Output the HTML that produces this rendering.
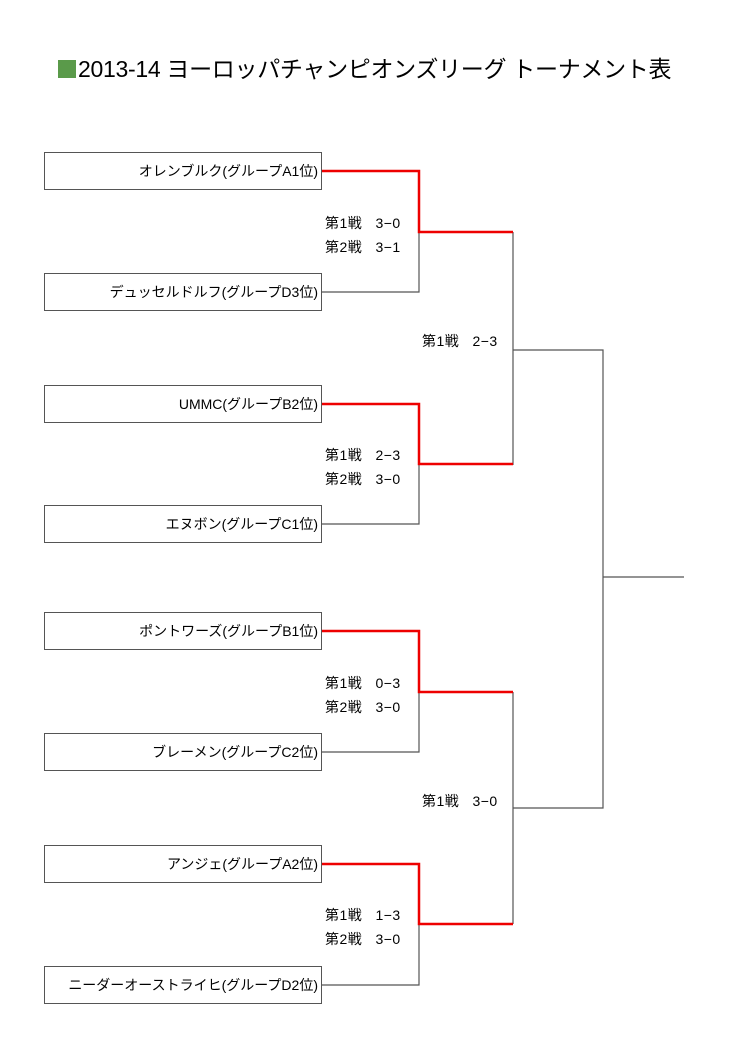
<!DOCTYPE html>
<html><head><meta charset="utf-8"><style>
body{margin:0;width:750px;height:1053px;background:#fff;position:relative;overflow:hidden;font-family:"Liberation Sans","Noto Sans CJK JP",sans-serif;}
.t{position:absolute;left:58px;top:50px;font-size:23px;color:#000;white-space:nowrap;letter-spacing:-0.3px;}
.sq{display:inline-block;width:18px;height:18px;background:#5a9a4a;vertical-align:-1px;margin-right:2px;}
.box{position:absolute;left:44px;width:276px;height:36px;border:1px solid #555;font-size:14px;text-align:right;line-height:36px;box-sizing:content-box;}
.box span{margin-right:3px;}
.s{position:absolute;font-size:14px;white-space:nowrap;letter-spacing:0.5px;}
</style></head><body>
<div class="t"><span class="sq"></span>2013-14 ヨーロッパチャンピオンズリーグ トーナメント表</div>
<div class="box" style="top:152px"><span>オレンブルク(グループA1位)</span></div>
<div class="box" style="top:273px"><span>デュッセルドルフ(グループD3位)</span></div>
<div class="box" style="top:385px"><span>UMMC(グループB2位)</span></div>
<div class="box" style="top:505px"><span>エヌボン(グループC1位)</span></div>
<div class="box" style="top:612px"><span>ポントワーズ(グループB1位)</span></div>
<div class="box" style="top:733px"><span>ブレーメン(グループC2位)</span></div>
<div class="box" style="top:845px"><span>アンジェ(グループA2位)</span></div>
<div class="box" style="top:966px"><span>ニーダーオーストライヒ(グループD2位)</span></div>
<svg width="750" height="1053" style="position:absolute;left:0;top:0" fill="none">
<g stroke="#555" stroke-width="1.2">
<path d="M322 292H419V232"/><path d="M322 524H419V464"/><path d="M322 752H419V692"/><path d="M322 985H419V924"/>
<path d="M513 232V465"/><path d="M513 692V924"/>
<path d="M513 350H603V808H513"/><path d="M603 577H684"/>
</g>
<g stroke="#e00" stroke-width="2.5">
<path d="M322 171H419V232H513"/><path d="M322 404H419V464H513"/><path d="M322 631H419V692H513"/><path d="M322 864H419V924H513"/>
</g>
</svg>
<div class="s" style="left:325px;top:213px">第1戦&nbsp;&nbsp; 3−0</div>
<div class="s" style="left:325px;top:237px">第2戦&nbsp;&nbsp; 3−1</div>
<div class="s" style="left:422px;top:331px">第1戦&nbsp;&nbsp; 2−3</div>
<div class="s" style="left:325px;top:445px">第1戦&nbsp;&nbsp; 2−3</div>
<div class="s" style="left:325px;top:469px">第2戦&nbsp;&nbsp; 3−0</div>
<div class="s" style="left:325px;top:673px">第1戦&nbsp;&nbsp; 0−3</div>
<div class="s" style="left:325px;top:697px">第2戦&nbsp;&nbsp; 3−0</div>
<div class="s" style="left:422px;top:791px">第1戦&nbsp;&nbsp; 3−0</div>
<div class="s" style="left:325px;top:905px">第1戦&nbsp;&nbsp; 1−3</div>
<div class="s" style="left:325px;top:929px">第2戦&nbsp;&nbsp; 3−0</div>
</body></html>
